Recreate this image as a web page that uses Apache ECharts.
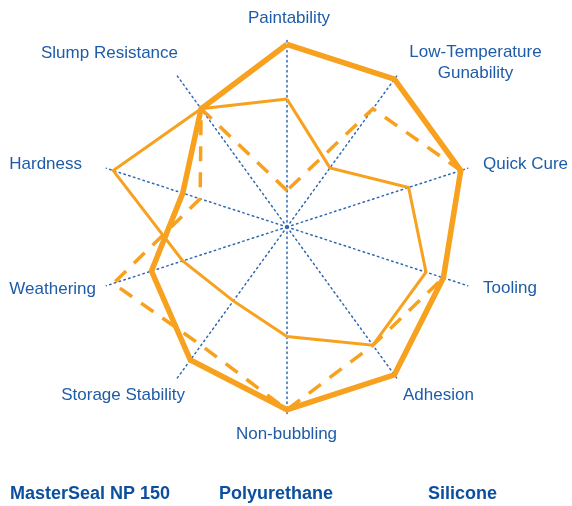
<!DOCTYPE html>
<html><head><meta charset="utf-8">
<script src="https://cdn.jsdelivr.net/npm/echarts@6/dist/echarts.min.js"></script>
<style>html,body{margin:0;padding:0;background:#fff}#c{width:572px;height:506px}</style>
</head><body><div id="c"></div>
<script>
// Axes listed clockwise from the top
const categories = ['Paintability', 'Low-Temperature\nGunability', 'Quick Cure', 'Tooling', 'Adhesion',
  'Non-bubbling', 'Storage Stability', 'Weathering', 'Hardness', 'Slump Resistance'];
const masterSeal   = [5, 5, 5, 4.5, 5, 5, 4.5, 3.9, 3, 4];
const polyurethane = [3.5, 2, 3.5, 4, 4, 3, 2.5, 3, 5, 4];
const silicone     = [1, 4, 5, 4.5, 4, 5, 4, 5, 2.5, 4];
const seriesNames  = ['MasterSeal NP 150', 'Polyurethane', 'Silicone'];
const axisMax = 5.2;

// layout (not data): label anchor positions
const labelLayout = {
  'Paintability': [289, 18.5, 'center'],
  'Low-Temperature\nGunability': [475.5, 63, 'center'],
  'Quick Cure': [483, 164, 'left'],
  'Tooling': [483, 288, 'left'],
  'Adhesion': [403, 395.5, 'left'],
  'Non-bubbling': [286.5, 434.5, 'center'],
  'Storage Stability': [185, 395.5, 'right'],
  'Weathering': [96, 289, 'right'],
  'Hardness': [82, 164.5, 'right'],
  'Slump Resistance': [178, 53, 'right']
};
const legendLeft = [5, 214, 423];

const FONT = "'Liberation Sans', Arial, Helvetica, sans-serif";
const ORANGE = '#F7A11F';
const LABEL_BLUE = '#1F5CA8';
const LEGEND_BLUE = '#0C4F9E';

// ECharts places radar indicators counter-clockwise; reorder clockwise lists
const ccw = arr => [arr[0]].concat(arr.slice(1).reverse());

const chart = echarts.init(document.getElementById('c'), null, {renderer: 'canvas'});
const option = {
  backgroundColor: '#ffffff',
  animation: false,
  radar: {
    center: [287, 227],
    radius: 190,
    startAngle: 90,
    shape: 'polygon',
    splitNumber: 1,
    indicator: ccw(categories).map(n => ({name: n, min: 0, max: axisMax})),
    axisName: {show: false},
    axisLine: {lineStyle: {color: '#2E68B2', width: 1.5, type: [1.5, 3.5]}},
    axisTick: {show: false},
    axisLabel: {show: false},
    splitLine: {show: false},
    splitArea: {show: false}
  },
  legend: seriesNames.map((n, i) => ({
    data: [n], left: legendLeft[i], top: 485, padding: 0,
    icon: 'none', itemWidth: 0, itemHeight: 18, selectedMode: false,
    textStyle: {fontFamily: FONT, fontSize: 18, fontWeight: 'bold', color: LEGEND_BLUE}
  })),
  graphic: categories.map(n => ({
    type: 'text', x: labelLayout[n][0], y: labelLayout[n][1], silent: true,
    style: {text: n, font: '17px ' + FONT, fill: LABEL_BLUE, align: labelLayout[n][2],
      verticalAlign: 'middle', lineHeight: 21}
  })),
  series: [
    {type: 'radar', name: seriesNames[2], z: 2, symbol: 'none', color: ORANGE,
      lineStyle: {color: ORANGE, width: 3.5, type: [15, 11], join: 'miter'},
      data: [{name: seriesNames[2], value: ccw(silicone)}]},
    {type: 'radar', name: seriesNames[1], z: 3, symbol: 'none', color: ORANGE,
      lineStyle: {color: ORANGE, width: 3, type: 'solid', join: 'miter'},
      data: [{name: seriesNames[1], value: ccw(polyurethane)}]},
    {type: 'radar', name: seriesNames[0], z: 4, symbol: 'none', color: ORANGE,
      lineStyle: {color: ORANGE, width: 5.5, type: 'solid', join: 'miter'},
      data: [{name: seriesNames[0], value: ccw(masterSeal)}]}
  ]
};
chart.setOption(option);
</script>
</body></html>
